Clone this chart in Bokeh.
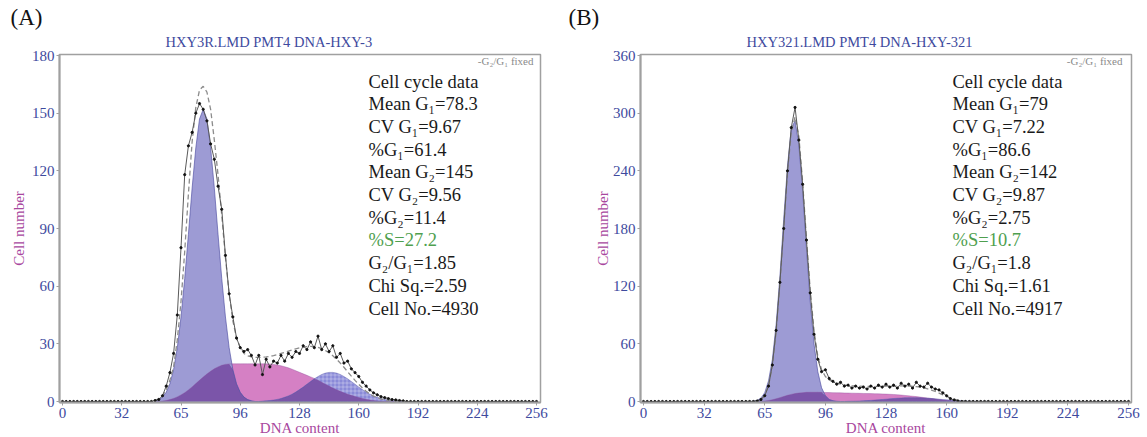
import math
import numpy as np
from bokeh.plotting import figure
from bokeh.layouts import row
from bokeh.models import Label, FixedTicker, Title
from bokeh.embed import file_html
from bokeh.resources import INLINE

# ---------------- data ----------------
x_fit = list(range(50, 186, 2))          # channels for fitted components
x_data = list(range(0, 258, 2))          # channels for raw histogram

# Panel A
g1_a = [0.4, 1, 2.3, 4.8, 9.2, 16.6, 28, 44, 64, 87, 111, 132, 147, 152, 147, 132, 111, 87, 64, 44,
        28, 16.6, 9.2, 4.8, 2.3, 1, 0.4,
        0, 0, 0, 0, 0, 0, 0, 0, 0, 0, 0, 0, 0, 0, 0, 0, 0, 0, 0, 0, 0, 0, 0, 0, 0, 0, 0, 0, 0, 0,
        0, 0, 0, 0, 0, 0, 0, 0, 0, 0, 0]
s_a = [0, 0, 0.2, 0.5, 1, 1.6, 2.4, 3.4, 4.6, 6, 7.6, 9.3, 11, 12.7, 14.3, 15.7, 17, 18, 18.8, 19.3,
       19.5, 19.6, 19.6, 19.6, 19.6, 19.6, 19.6, 19.6, 19.6, 19.6,
       19.6, 19.5, 19.3, 19, 18.6, 18.1, 17.5, 16.8, 16, 15.2, 14.4, 13.6, 12.8, 12, 11, 10, 9, 8, 7,
       6.1, 5.3, 4.5, 3.8, 3.2, 2.6, 2.1, 1.6, 1.2, 0.8, 0.5, 0.3, 0.1, 0, 0, 0, 0, 0, 0]
g2_a = [0, 0, 0, 0, 0, 0, 0, 0, 0, 0, 0, 0, 0, 0, 0, 0, 0, 0, 0, 0, 0, 0, 0, 0, 0, 0, 0, 0, 0,
        0.2, 0.33, 0.5, 0.76, 1.1, 1.55, 2.2, 2.9, 3.8, 4.9, 6.2, 7.5, 9, 10.4, 11.8, 13, 14.1, 14.8,
        15.15, 15.15, 14.8, 14.1, 13, 11.8, 10.4, 9, 7.5, 6.2, 4.9, 3.8, 2.9, 2.2, 1.55, 1.1, 0.76,
        0.5, 0.33, 0.2, 0.1]
model_a = [0.5, 1.5, 3, 6, 11, 18, 32, 52, 78, 108, 135, 153, 162, 164, 161, 152, 136, 118, 97, 75,
           56, 42, 33, 28, 25,
           23.8, 23.2, 23, 23, 23, 23.2, 23.5, 23.9, 24.4, 25, 25.6, 26.2, 26.8, 27.4, 27.9, 28.3,
           28.6, 28.7, 28.6, 28.2, 27.5, 26.5, 25.3, 23.8, 22,
           20, 17.8, 15.5, 13.2, 11, 8.9, 7, 5.3, 3.9, 2.8, 1.9, 1.3, 0.8, 0.5, 0.3, 0.2, 0.1, 0]
data_a = [0, 0, 0, 0, 0, 0, 0, 0, 0, 0, 0, 0, 0, 0, 0, 0, 0, 0, 0, 0, 0, 0, 0, 0,
          0, 0.5, 1, 3, 8, 15, 25, 45, 80, 118, 133, 140, 150, 155, 152, 146, 134, 126, 112, 100,
          76, 56, 44, 33, 28, 26, 27, 24, 19, 24, 14, 22, 18, 21, 20, 24, 21, 25, 23, 26, 25, 29,
          27, 31, 28, 34, 27, 30, 26, 29, 23, 25, 20, 21, 17, 15, 13, 10, 8, 6, 4.5, 3.5, 2.5, 2,
          1.5, 1, 0.8, 0.5, 0.3,
          0, 0, 0, 0, 0, 0, 0, 0, 0, 0, 0, 0, 0, 0, 0, 0, 0, 0, 0, 0, 0, 0, 0, 0, 0, 0, 0, 0, 0, 0,
          0, 0, 0, 0, 0, 0]

# Panel B
g1_b = [0, 0, 0, 0, 0.3, 1.2, 3.6, 9.2, 21.5, 43.5, 80, 130, 189.5, 245, 284, 292, 267, 219, 160,
        104, 60, 31, 14.3, 6, 2.2, 0.8, 0.2,
        0, 0, 0, 0, 0, 0, 0, 0, 0, 0, 0, 0, 0, 0, 0, 0, 0, 0, 0, 0, 0, 0, 0, 0, 0, 0, 0, 0, 0, 0,
        0, 0, 0, 0, 0, 0, 0, 0, 0, 0, 0]
s_b = [0, 0, 0, 0, 0, 0,
       0.2, 0.5, 1, 1.8, 2.8, 4, 5.2, 6.4, 7.4, 8.2, 8.8, 9.2, 9.5, 9.6, 9.6, 9.6, 9.5, 9.4, 9.3,
       9.2, 9.1, 9, 8.9, 8.8, 8.7, 8.6, 8.5, 8.4, 8.3, 8.2, 8.1, 8, 7.9, 7.7, 7.5, 7.3, 7, 6.7,
       6.3, 5.9, 5.5, 5.1, 4.6, 4.1, 3.6, 3.1, 2.6, 2.1, 1.6, 1.2, 0.8, 0.5, 0.2,
       0, 0, 0, 0, 0, 0, 0, 0, 0]
g2_b = [0, 0, 0, 0, 0, 0, 0, 0, 0, 0, 0, 0, 0, 0, 0, 0, 0, 0, 0, 0, 0, 0, 0, 0, 0, 0, 0, 0, 0,
        0.2, 0.3, 0.4, 0.54, 0.72, 0.92, 1.17, 1.44, 1.75, 2.08, 2.42, 2.77, 3.1, 3.4, 3.65, 3.84,
        3.96, 4, 3.96, 3.84, 3.65, 3.4, 3.1, 2.77, 2.42, 2.08, 1.75, 1.44, 1.17, 0.92, 0.72, 0.54,
        0.4, 0.3, 0.2, 0.15, 0.1, 0.07, 0.05]
model_b = [0, 0, 0, 0, 0,
           0.6, 2.2, 6.5, 16.5, 37, 72, 122, 180, 238, 280, 296, 276, 228, 170, 116, 74, 47, 33, 26,
           22.5, 20.5, 19, 18, 17.3, 16.8, 16.4, 16.1, 15.9, 15.8, 15.7, 15.7, 15.7, 15.7, 15.8,
           15.9, 16, 16.1, 16.2, 16.2, 16.2, 16.1, 15.9, 15.5, 15, 14.2, 13.2, 11.9, 10.4, 8.7, 6.9,
           5.2, 3.7, 2.4, 1.4, 0.8, 0.4, 0.2, 0.1,
           0, 0, 0, 0, 0]
data_b = [0, 0, 0, 0, 0, 0, 0, 0, 0, 0, 0, 0, 0, 0, 0, 0, 0, 0, 0, 0, 0, 0, 0, 0, 0, 0, 0, 0, 0, 0,
          0.5, 2, 6, 16, 38, 74, 124, 180, 240, 285, 306, 272, 226, 168, 113, 70, 44, 31, 33, 24,
          21, 18, 20, 16, 17, 14, 16, 14, 15, 13, 16, 14, 17, 15, 18, 15, 17, 14, 19, 16, 18, 14,
          20, 16, 15, 19, 15, 13, 12, 9, 6, 3, 1.5, 0.5,
          0, 0, 0, 0, 0, 0, 0, 0, 0, 0, 0, 0, 0, 0, 0, 0, 0, 0, 0, 0, 0, 0, 0, 0, 0, 0, 0, 0, 0, 0,
          0, 0, 0, 0, 0, 0, 0, 0, 0, 0, 0, 0, 0, 0, 0]

x_ticks = [0, 32, 64, 96, 128, 160, 192, 224, 256]
x_tick_labels = ["0", "32", "65", "96", "128", "160", "192", "224", "256"]
y_ticks_a = [0, 30, 60, 90, 120, 150, 180]
y_ticks_b = [0, 60, 120, 180, 240, 300, 360]

titles = ["HXY3R.LMD PMT4 DNA-HXY-3", "HXY321.LMD PMT4 DNA-HXY-321"]
panel_tags = ["(A)", "(B)"]
stats_a = ["Cell cycle data", "Mean G\u2081=78.3", "CV G\u2081=9.67", "%G\u2081=61.4", "Mean G\u2082=145",
           "CV G\u2082=9.56", "%G\u2082=11.4", "%S=27.2", "G\u2082/G\u2081=1.85", "Chi Sq.=2.59",
           "Cell No.=4930"]
stats_b = ["Cell cycle data", "Mean G\u2081=79", "CV G\u2081=7.22", "%G\u2081=86.6", "Mean G\u2082=142",
           "CV G\u2082=9.87", "%G\u2082=2.75", "%S=10.7", "G\u2082/G\u2081=1.8", "Chi Sq.=1.61",
           "Cell No.=4917"]

# ---------------- styling ----------------
FONT = "Liberation Serif"
BLUE = "#3e4a9e"
MAG = "#a8479e"
GREEN = "#4f9f4f"
PINK = "#d580c4"
LAV = "#9d9bd4"
G2C = "#8a8ad8"
DARK = "#7b55a9"
FRAME = "#a0a0a0"

FIG_H = 437
FRAME_TOP, FRAME_BOT = 54, 402   # page pixels


def build(tag, title, stats, g1, s, g2, model, data, yticks, ymax,
          fig_left, frame_left, frame_w, x0_px, x256_px, border_right,
          tag_px, title_px, fixed_px, stats_px, ylab_standoff):
    y0_px = 401
    ymax_px = 55
    xs = (x256_px - x0_px) / 256.0
    ys = (y0_px - ymax_px) / float(ymax)

    def dx(px):
        return (px - x0_px) / xs

    def dy(py):
        return (y0_px - py) / ys

    xr = (dx(frame_left), dx(frame_left + frame_w))
    yr = (dy(FRAME_BOT), dy(FRAME_TOP))

    p = figure(frame_width=frame_w, frame_height=FRAME_BOT - FRAME_TOP,
               x_range=xr, y_range=yr, title=None,
               min_border_left=frame_left - fig_left, min_border_right=border_right,
               min_border_top=FRAME_TOP, min_border_bottom=FIG_H - FRAME_BOT,
               toolbar_location=None, output_backend="svg")
    p.grid.visible = False
    p.background_fill_color = "white"
    p.border_fill_color = "white"
    p.outline_line_color = FRAME
    p.outline_line_width = 1.5

    p.xaxis.ticker = FixedTicker(ticks=x_ticks)
    p.xaxis.major_label_overrides = {t: l for t, l in zip(x_ticks, x_tick_labels)}
    p.yaxis.ticker = FixedTicker(ticks=yticks)
    for ax in (p.xaxis, p.yaxis):
        ax.major_label_text_font = FONT
        ax.major_label_text_font_size = "15px"
        ax.major_label_text_color = BLUE
        ax.axis_line_color = FRAME
        ax.axis_line_width = 2
        ax.major_tick_line_color = FRAME
        ax.major_tick_out = 3
        ax.major_tick_in = 0
        ax.minor_tick_line_color = None
        ax.major_label_standoff = 2
        ax.axis_label_text_font = FONT
        ax.axis_label_text_font_size = "15px"
        ax.axis_label_text_font_style = "normal"
        ax.axis_label_text_color = MAG
    p.xaxis.axis_label = "DNA content"
    p.xaxis.axis_label_standoff = -1
    p.yaxis.axis_label = "Cell number"
    p.yaxis.axis_label_standoff = ylab_standoff

    # titles above the frame (nearest first)
    p.add_layout(Title(text=title, align="left", offset=title_px[0] - frame_left, standoff=10,
                       text_font=FONT, text_font_size="14.5px", text_font_style="normal",
                       text_color=BLUE), "above")
    p.add_layout(Title(text=tag, align="left", offset=tag_px[0] - frame_left, standoff=-6,
                       text_font=FONT, text_font_size="23px", text_font_style="normal",
                       text_color="#111111"), "above")

    xf = np.array(x_fit, dtype=float)
    g1 = np.array(g1, dtype=float)
    s = np.array(s, dtype=float)
    g2 = np.array(g2, dtype=float)

    p.varea(x=xf, y1=0, y2=s, fill_color=PINK)
    p.varea(x=xf, y1=0, y2=g1, fill_color=LAV)
    p.varea(x=xf, y1=0, y2=g2, fill_color=G2C,
            hatch_pattern="cross", hatch_color="white", hatch_alpha=0.45, hatch_scale=4,
            hatch_weight=0.7)
    p.varea(x=xf, y1=0, y2=np.minimum(s, g1), fill_color=DARK)
    p.varea(x=xf, y1=0, y2=np.minimum(s, g2), fill_color=DARK)
    p.line(xf, g1, line_color="#4b4ba0", line_width=0.8, line_alpha=0.8)
    p.line(xf, s, line_color="#8a4a9a", line_width=0.6, line_alpha=0.6)
    p.line(xf, g2, line_color="#4b4ba0", line_width=0.6, line_alpha=0.6)

    p.line(xf, model, line_color="#8c8c8c", line_width=1.3, line_dash="5 3")
    p.line(x_data, data, line_color="#5a5a5a", line_width=1)
    p.scatter(x_data, data, size=2.2, color="#111111")

    def lab(px, py, text, size, color, align="left"):
        p.add_layout(Label(x=dx(px), y=dy(py), text=text, text_font=FONT,
                           text_font_size=size, text_color=color, text_align=align,
                           text_baseline="middle"))

    lab(fixed_px[0], fixed_px[1], "-G\u2082/G\u2081 fixed", "11px", "#8a8a8a", align="right")
    for i, t in enumerate(stats):
        col = GREEN if t.startswith("%S") else "#1a1a1a"
        lab(stats_px[0], stats_px[1] + 22.7 * i, t, "18.5px", col)
    return p


p1 = build(panel_tags[0], titles[0], stats_a, g1_a, s_a, g2_a, model_a, data_a, y_ticks_a, 180,
           fig_left=0, frame_left=59, frame_w=481, x0_px=62, x256_px=536, border_right=20,
           tag_px=(10, 22), title_px=(165, 40), fixed_px=(533, 60), stats_px=(368, 81),
           ylab_standoff=2)
p2 = build(panel_tags[1], titles[1], stats_b, g1_b, s_b, g2_b, model_b, data_b, y_ticks_b, 360,
           fig_left=560, frame_left=640, frame_w=491, x0_px=643, x256_px=1128, border_right=16,
           tag_px=(568, 22), title_px=(746, 40), fixed_px=(1122, 60), stats_px=(952, 81),
           ylab_standoff=-1)

layout = row(p1, p2)
open("out.html", "w").write(file_html(layout, INLINE, "Cell cycle"))
